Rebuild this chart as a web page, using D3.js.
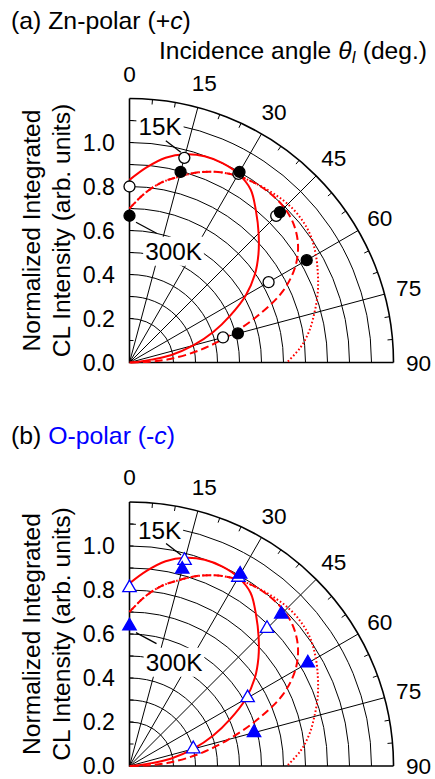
<!DOCTYPE html>
<html>
<head>
<meta charset="utf-8">
<script src="https://cdn.jsdelivr.net/npm/d3@7"></script>
<style>
  body { margin: 0; background: #fff; }
  svg text { font-family: "Liberation Sans", Arial, sans-serif; fill: #000; }
</style>
</head>
<body>
<svg id="chart"></svg>
<script>
// values
const angleTicks = [0, 15, 30, 45, 60, 75, 90]
const minorAngles = [5, 10, 20, 25, 35, 40, 50, 55, 65, 70, 80, 85]
const radiusTicks = [0.0, 0.2, 0.4, 0.6, 0.8, 1.0]
const axisTicks = [0.1, 0.2, 0.3, 0.4, 0.5, 0.6, 0.7, 0.8, 0.9, 1.0, 1.1]
const gridRadii = [0.2, 0.3, 0.4, 0.5, 0.6, 0.7, 0.8, 0.9, 1.0, 1.1]

const pointAngles = [0, 15, 30, 45, 60, 75]
const zn15K = [0.80, 0.963, 0.99, 0.943, 0.73, 0.44]
const zn300K = [0.667, 0.897, 1.00, 0.967, 0.93, 0.51]
const o15K = [0.81, 0.967, 0.99, 0.884, 0.62, 0.30]
const o300K = [0.636, 0.926, 1.006, 0.976, 0.936, 0.586]

// fitted curves (same in both panels)
const solidAngles = [0, 5, 10, 15, 20, 25, 30, 35, 40, 45, 50, 55, 60, 65, 70, 75, 80, 82.5, 85, 87.5, 90]
const solidVals = [0.83, 0.89, 0.945, 0.98, 0.998, 1.0, 0.99, 0.96, 0.895, 0.83, 0.765, 0.695, 0.61, 0.505, 0.405, 0.30, 0.19, 0.10, 0.05, 0.018, 0.0]
const dashedAngles = [0, 5, 10, 15, 20, 25, 30, 35, 40, 45, 50, 55, 60, 65, 70, 75, 80, 85, 87.5, 90]
const dashedVals = [0.70, 0.77, 0.83, 0.875, 0.92, 0.955, 0.98, 0.995, 1.0, 0.995, 0.975, 0.935, 0.87, 0.77, 0.62, 0.465, 0.325, 0.185, 0.09, 0.0]
const dottedAngles = [0, 5, 10, 15, 20, 25, 30, 35, 40, 45, 50, 55, 60, 65, 70, 75, 80, 85, 90]
const dottedVals = [0.70, 0.77, 0.83, 0.875, 0.92, 0.955, 0.98, 0.995, 1.008, 1.018, 1.018, 1.005, 0.978, 0.945, 0.91, 0.87, 0.83, 0.78, 0.715]

const width = 435, height = 779
const svg = d3.select('#chart').attr('width', width).attr('height', height)

const r = d3.scaleLinear().domain([0, 1.2]).range([0, 264])
const a = d3.scaleLinear().domain([0, 90]).range([0, Math.PI / 2])
const pos = (deg, v) => d3.pointRadial(a(deg), r(v))

const panels = [
    {oy: 362.5, filled: zn300K, open: zn15K, shape: d3.symbolCircle, color: '#000',
     lab15: [30.5, -236], lab300: [44, -111.5]},
    {oy: 766, filled: o300K, open: o15K, shape: d3.symbolTriangle, color: '#0000ff',
     lab15: [30, -236], lab300: [44.5, -104]}
]

function quarter(p, rad) {
    p.moveTo(0, -rad)
    p.arc(0, 0, rad, -Math.PI / 2, 0)
    return p
}

panels.forEach(pn => {
    let g = svg.append('g').attr('transform', `translate(129.5,${pn.oy})`)

    // grid
    g.selectAll('path.grid')
        .data(gridRadii)
        .join('path')
            .attr('class', 'grid')
            .attr('d', d => quarter(d3.path(), r(d)).toString())
            .attr('fill', 'none').attr('stroke', '#000').attr('stroke-width', 1)

    g.selectAll('line.spoke')
        .data(angleTicks.slice(1, -1))
        .join('line')
            .attr('class', 'spoke')
            .attr('x1', 0).attr('y1', 0)
            .attr('x2', d => pos(d, 1.2)[0])
            .attr('y2', d => pos(d, 1.2)[1])
            .attr('stroke', '#000').attr('stroke-width', 1)

    g.selectAll('line.minor')
        .data(minorAngles)
        .join('line')
            .attr('class', 'minor')
            .attr('x1', d => d3.pointRadial(a(d), r(1.2))[0])
            .attr('y1', d => d3.pointRadial(a(d), r(1.2))[1])
            .attr('x2', d => d3.pointRadial(a(d), r(1.2) - 5)[0])
            .attr('y2', d => d3.pointRadial(a(d), r(1.2) - 5)[1])
            .attr('stroke', '#000').attr('stroke-width', 1)

    g.selectAll('line.atick')
        .data(axisTicks)
        .join('line')
            .attr('class', 'atick')
            .attr('x1', 0).attr('x2', 4)
            .attr('y1', d => -r(d)).attr('y2', d => -r(d))
            .attr('stroke', '#000').attr('stroke-width', 1)

    g.append('path')
        .attr('d', quarter(d3.path(), r(1.2)).toString())
        .attr('fill', 'none').attr('stroke', '#000').attr('stroke-width', 1.6)
    g.append('path')
        .attr('d', `M0,${-r(1.2)}V0H${r(1.2)}`)
        .attr('fill', 'none').attr('stroke', '#000').attr('stroke-width', 1.6)

    // temperature labels with white boxes over the grid
    let notes = [
        {text: '15K', at: pn.lab15, deg: pointAngles[1], v: pn.open[1], from: [-3.5, -5.5], to: [-18.5, -17]},
        {text: '300K', at: pn.lab300, deg: pointAngles[0], v: pn.filled[0], from: [6.5, 6.5], to: [27, 17.5]}
    ]
    notes.forEach(n => {
        let t = g.append('text')
            .attr('x', n.at[0]).attr('y', n.at[1])
            .attr('dy', '0.36em')
            .attr('text-anchor', 'middle')
            .attr('font-size', 24.3)
            .text(n.text)
        let bb = t.node().getBBox()
        g.insert('rect', () => t.node())
            .attr('x', bb.x - 2).attr('y', bb.y - 1)
            .attr('width', bb.width + 4).attr('height', bb.height + 2)
            .attr('fill', '#fff')
        let p = pos(n.deg, n.v)
        g.append('line')
            .attr('x1', p[0] + n.from[0]).attr('y1', p[1] + n.from[1])
            .attr('x2', p[0] + n.to[0]).attr('y2', p[1] + n.to[1])
            .attr('stroke', '#000').attr('stroke-width', 1.3)
    })

    // fitted curves
    let radial = d3.lineRadial()
        .angle(d => a(d[0]))
        .radius(d => r(d[1]))
        .curve(d3.curveCatmullRom)

    let curves = [
        {pts: d3.zip(solidAngles, solidVals), dash: null},
        {pts: d3.zip(dashedAngles, dashedVals), dash: '8,4'},
        {pts: d3.zip(dottedAngles, dottedVals), dash: '1.6,2.2'}
    ]
    g.selectAll('path.fit')
        .data(curves)
        .join('path')
            .attr('class', 'fit')
            .attr('d', d => radial(d.pts))
            .attr('fill', 'none')
            .attr('stroke', '#ff0000')
            .attr('stroke-width', 2)
            .attr('stroke-dasharray', d => d.dash)

    // data points: 15K open, 300K filled
    let sym = d3.symbol().type(pn.shape).size(pn.shape === d3.symbolCircle ? 95 : 78)
    let sets = [
        {vals: pn.open, fill: '#fff'},
        {vals: pn.filled, fill: pn.color}
    ]
    sets.forEach(s => {
        g.append('g').selectAll('path')
            .data(d3.zip(pointAngles, s.vals))
            .join('path')
                .attr('d', sym)
                .attr('transform', d => `translate(${pos(d[0], d[1])})`)
                .attr('fill', s.fill)
                .attr('stroke', pn.color)
                .attr('stroke-width', 1.3)
    })

    // tick labels
    g.selectAll('text.rlab')
        .data(radiusTicks)
        .join('text')
            .attr('class', 'rlab')
            .attr('x', -14.5)
            .attr('y', d => -r(d))
            .attr('dy', '0.36em')
            .attr('text-anchor', 'end')
            .attr('font-size', 23.2)
            .text(d => d.toFixed(1))

    g.selectAll('text.alab')
        .data(angleTicks)
        .join('text')
            .attr('class', 'alab')
            .attr('x', d => d3.pointRadial(a(d), 289)[0])
            .attr('y', d => d3.pointRadial(a(d), 289)[1])
            .attr('dy', '0.36em')
            .attr('text-anchor', 'middle')
            .attr('font-size', 22.6)
            .text(d => d)

    // y axis title
    let yt = [['Normalized Integrated', -89.5], ['CL Intensity (arb. units)', -59.5]]
    yt.forEach(t => {
        g.append('text')
            .attr('transform', `translate(${t[1]},${-132}) rotate(-90)`)
            .attr('text-anchor', 'middle')
            .attr('font-size', 24.6)
            .text(t[0])
    })
})

// panel titles
let ta = svg.append('text').attr('x', 11).attr('y', 29).attr('font-size', 24.8)
ta.append('tspan').text('(a) Zn-polar (+')
ta.append('tspan').attr('font-style', 'italic').text('c')
ta.append('tspan').text(')')

let tb = svg.append('text').attr('x', 11).attr('y', 444).attr('font-size', 24.8)
tb.append('tspan').text('(b) ')
tb.append('tspan').style('fill', '#0000ff').text('O-polar (-')
tb.append('tspan').style('fill', '#0000ff').attr('font-style', 'italic').text('c')
tb.append('tspan').style('fill', '#0000ff').text(')')

let ti = svg.append('text').attr('x', 159).attr('y', 59).attr('font-size', 24.6)
ti.append('tspan').text('Incidence angle ')
ti.append('tspan').attr('font-style', 'italic').text('θ')
ti.append('tspan').attr('font-style', 'italic').attr('font-size', 16).attr('dy', 4).text('I')
ti.append('tspan').attr('dy', -4).text(' (deg.)')
</script>
</body>
</html>
